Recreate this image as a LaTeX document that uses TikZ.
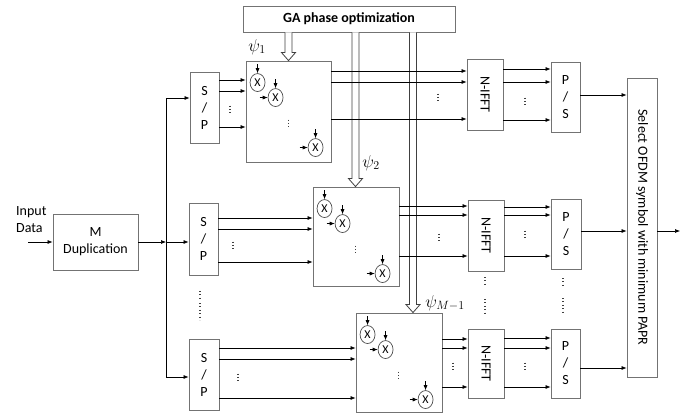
\documentclass[tikz,border=0pt]{standalone}
\usepackage{amsmath}
\usepackage{fontspec}
\setmainfont{Carlito}
\usetikzlibrary{arrows.meta, calc, shapes.geometric}

\begin{document}
\begin{tikzpicture}[x=1pt, y=-1pt, >={Latex[length=5pt, width=4pt]},
    txt/.style={font=\fontsize{14}{17}\selectfont},
    blk/.style={txt, draw=black!55, line width=0.9pt, inner sep=0pt, align=center},
    mult/.style={draw=black!70, ellipse, line width=0.7pt, minimum width=15, minimum height=18, inner sep=0pt, font=\fontsize{12}{12}\selectfont},
    link/.style={->, line width=0.6pt},
    hollow/.style={draw=black!75, fill=white, line width=0.8pt},
    dotline/.style={black!75, line width=1.2pt, dash pattern=on 1pt off 2.4pt}]
    \useasboundingbox (0,0) rectangle (699,413);

    % Input and duplication
    \node[txt, align=left, anchor=west, inner sep=0pt] (inp) at (16,220) {Input\\Data};
    \coordinate (inpend) at (28,242);
    \node[blk, minimum width=85, minimum height=56] (dup) at (95.5,242) {M\\Duplication};
    \draw[link] (inpend) -- (dup.west |- inpend);

    % GA block
    \node[blk, minimum width=212, minimum height=26, font=\bfseries\fontsize{14}{17}\selectfont] (ga) at (349,19) {GA phase optimization};

    % S/P blocks
    \node[blk, minimum width=29, minimum height=71] (sp1) at (204.5,107.5) {S\\/\\P};
    \node[blk, minimum width=29, minimum height=72] (sp2) at (203.5,239) {S\\/\\P};
    \node[blk, minimum width=30, minimum height=71] (sp3) at (204,374.5) {S\\/\\P};

    % Split line
    \coordinate (jtop) at (166,98);
    \coordinate (jmid) at (166,242);
    \coordinate (jbot) at (166,377);
    \draw[line width=0.6pt] (jtop) -- (jbot);
    \draw[link] (dup.east) -- (jmid);
    \draw[link] (jtop) -- (sp1.west |- jtop);
    \draw[link] (jmid) -- (sp2.west |- jmid);
    \draw[link] (jbot) -- (sp3.west |- jbot);

    % Phase rotation blocks
    \node[blk, minimum width=85, minimum height=101] (m1) at (288.5,111.5) {};
    \node[blk, minimum width=86, minimum height=99] (m2) at (356,236.5) {};
    \node[blk, minimum width=86, minimum height=99] (m3) at (399,362.5) {};
    \foreach \m in {m1,m2,m3} {
        \node[mult] (\m-a) at ($(\m.north west)+(12,22)$) {X};
        \node[mult] (\m-b) at ($(\m.north west)+(30,37)$) {X};
        \node[mult] (\m-c) at ($(\m.north west)+(70,87)$) {X};
        \draw[dotline] ($(\m.north west)+(43,59)$) -- ($(\m.north west)+(43,68)$);
        \foreach \k in {a,b,c}
            \draw[link] ($(\m-\k.north)+(0,-9)$) -- (\m-\k.north);
        \foreach \k in {b,c}
            \draw[link] ($(\m-\k.west)+(-8,0)$) -- (\m-\k.west);
    }

    % Phase vectors from GA
    \foreach \m/\dx in {m1/0, m2/-0.5, m3/14}
        \draw[hollow] let \p1 = ($(\m.north)+(\dx,0)$), \p2 = (ga.south) in
            ({\x1-3.5pt},\y2) -- ({\x1-3.5pt},{\y1+8pt}) -- ({\x1-7pt},{\y1+8pt}) -- (\x1,\y1)
            -- ({\x1+7pt},{\y1+8pt}) -- ({\x1+3.5pt},{\y1+8pt}) -- ({\x1+3.5pt},\y2);
    \node[font=\fontsize{17}{20}\selectfont] (psi1) at (257,47) {$\psi_1$};
    \node[font=\fontsize{17}{20}\selectfont] (psi2) at (371,163) {$\psi_2$};
    \node[font=\fontsize{17}{20}\selectfont] (psi3) at (445,303) {$\psi_{M-1}$};

    % N-IFFT and P/S blocks
    \node[blk, minimum width=36, minimum height=71] (nf1) at (485,94.5) {};
    \node[blk, minimum width=36, minimum height=71] (nf2) at (486,235.5) {};
    \node[blk, minimum width=36, minimum height=69] (nf3) at (486,363.5) {};
    \foreach \r in {1,2,3}
        \node[txt, rotate=-90] (nf\r-t) at (nf\r) {N-IFFT};
    \node[blk, minimum width=29, minimum height=70] (ps1) at (565.5,97) {P\\/\\S};
    \node[blk, minimum width=30, minimum height=70] (ps2) at (566,234) {P\\/\\S};
    \node[blk, minimum width=29, minimum height=69] (ps3) at (565.5,363.5) {P\\/\\S};

    % Selection block
    \node[blk, minimum width=30, minimum height=299] (sel) at (642,227.5) {};
    \node[txt, rotate=-90] (sel-t) at (sel) {Select OFDM symbol with minimum PAPR};
    \coordinate (out) at (680,231);
    \draw[link] (sel.east |- out) -- (out);

    % Parallel branches
    \foreach \r/\ys in {1/{80,91,127}, 2/{218,229,262}, 3/{348,359,398}}
        \foreach \y in \ys
            \draw[link] (sp\r.east |- 0,\y) -- (m\r.west |- 0,\y);
    \foreach \r/\ys in {1/{71,82,119}, 2/{206,215,256}, 3/{339,348,387}}
        \foreach \y in \ys
            \draw[link] (m\r.east |- 0,\y) -- (nf\r.west |- 0,\y);
    \foreach \r/\ys in {1/{69,82,120}, 2/{207,215,256}, 3/{338,348,387}}
        \foreach \y in \ys
            \draw[link] (nf\r.east |- 0,\y) -- (ps\r.west |- 0,\y);
    \foreach \r/\y in {1/95, 2/231, 3/368}
        \draw[link] (ps\r.east |- 0,\y) -- (sel.west |- 0,\y);

    % Dots
    \foreach \x/\y in {230/110, 233/246, 238/378, 438/98, 439/238, 453/367, 525/102, 525/235, 525/367}
        \draw[dotline] (\x,\y-4.5) -- (\x,\y+5);
    \foreach \x/\ya/\yb/\yc in {200/291/303/320, 485/277/299/313, 563/278/298/313} {
        \draw[dotline] (\x,\ya) -- (\x,\ya+9);
        \draw[dotline] (\x,\yb) -- (\x,\yc);
    }
\end{tikzpicture}
\end{document}
